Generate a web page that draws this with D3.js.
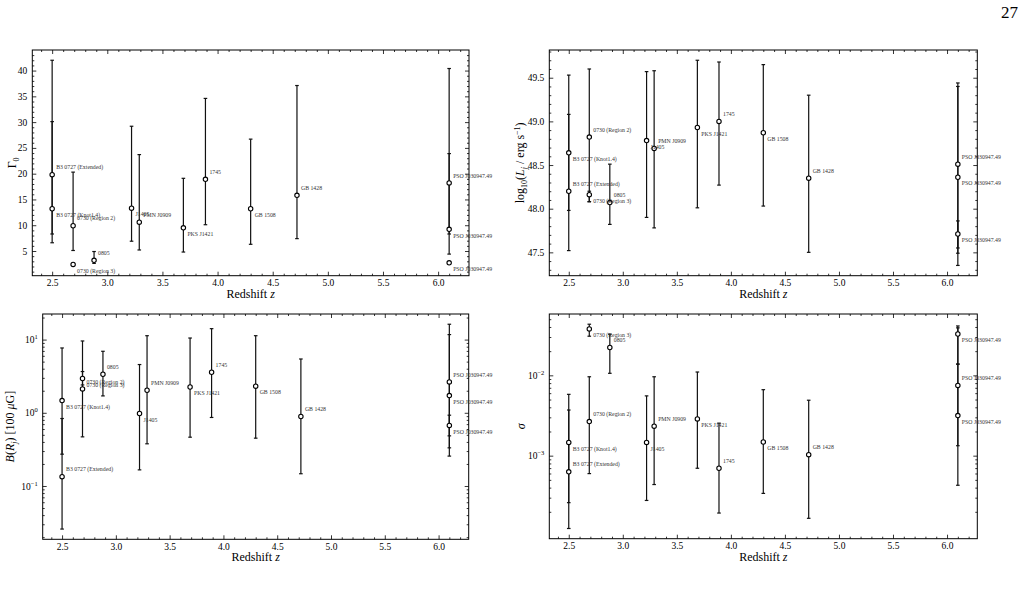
<!DOCTYPE html>
<html><head><meta charset="utf-8">
<script src="https://cdnjs.cloudflare.com/ajax/libs/d3/7.8.5/d3.min.js"></script>
<style>
html,body{margin:0;padding:0;background:#fff;}
svg{display:block;font-family:"Liberation Serif","DejaVu Serif",serif;}
</style></head>
<body>
<svg id="chart" width="1023" height="603"></svg>
<script>
// ---------------- data ----------------
const sources = ["B3 0727 (Extended)","B3 0727 (Knot1.4)","0730 (Region 2)","0730 (Region 3)","0805","J1405","PMN J0909","PKS J1421","1745","GB 1508","GB 1428","PSO J030947.49","PSO J030947.49","PSO J030947.49"];
const redshift = [2.5, 2.5, 2.69, 2.69, 2.88, 3.22, 3.29, 3.69, 3.89, 4.30, 4.72, 6.10, 6.10, 6.10];

const gammaVal = [19.8, 13.2, 9.9, 2.4, 3.2, 13.3, 10.6, 9.5, 18.9, 13.2, 15.8, 9.2, 18.2, 2.7];
const gammaLo  = [6.6, 8.3, 5.1, 2.2, 2.6, 6.9, 5.2, 4.8, 10.1, 6.3, 7.4, 8.3, 4.4, 2.5];
const gammaHi  = [42.0, 30.1, 20.3, 2.6, 4.9, 29.2, 23.7, 19.1, 34.6, 26.7, 37.1, 23.9, 40.4, 2.9];

const logLVal = [48.20, 48.64, 48.82, 48.16, 48.07, 48.78, 48.69, 48.93, 49.00, 48.87, 48.35, 48.36, 48.51, 47.71];
const logLLo  = [47.52, 47.98, 48.08, 48.08, 47.82, 47.90, 47.78, 48.01, 48.27, 48.03, 47.50, 47.49, 47.35, 47.55];
const logLHi  = [49.53, 49.08, 49.60, 48.20, 48.51, 49.57, 49.58, 49.70, 49.68, 49.65, 49.30, 49.40, 49.44, 47.86];

const bVal = [0.134, 1.47, 2.12, 2.94, 3.36, 0.977, 2.03, 2.25, 3.58, 2.31, 0.89, 1.72, 2.64, 0.671];
const bLo  = [0.0258, 0.272, 0.469, 2.40, 1.70, 0.166, 0.377, 0.464, 0.863, 0.45, 0.147, 0.332, 0.256, 0.484];
const bHi  = [0.835, 7.68, 9.57, 3.66, 6.92, 4.56, 11.3, 10.5, 14.1, 11.3, 5.43, 11.7, 16.2, 0.927];

const sigVal = [6.3e-4, 1.46e-3, 2.66e-3, 0.0378, 0.0222, 1.46e-3, 2.33e-3, 2.87e-3, 6.97e-4, 1.48e-3, 1.03e-3, 0.0327, 7.5e-3, 3.16e-3];
const sigLo  = [1.24e-4, 2.6e-4, 5.98e-4, 0.0307, 0.0106, 2.77e-4, 4.37e-4, 6.97e-4, 1.93e-4, 3.39e-4, 1.66e-4, 0.0138, 1.33e-3, 4.28e-4];
const sigHi  = [3.7e-3, 5.8e-3, 9.6e-3, 0.0433, 0.0325, 5.55e-3, 9.6e-3, 0.011, 2.54e-3, 6.63e-3, 4.9e-3, 0.0412, 0.039, 0.0138];

const xTicks = [2.5, 3.0, 3.5, 4.0, 4.5, 5.0, 5.5, 6.0];
const gammaTicks = [5, 10, 15, 20, 25, 30, 35, 40];
const logLTicks = [47.5, 48.0, 48.5, 49.0, 49.5];
const bTicks = [0.1, 1, 10];
const sigTicks = [1e-3, 1e-2];
const pageNumber = "27";

// ---------------- drawing ----------------
const svg = d3.select("#chart");
const FONT = '"Liberation Serif","DejaVu Serif",serif';

svg.append("text").attr("x", 1018).attr("y", 18).attr("text-anchor", "end")
  .attr("font-size", 17).attr("font-family", FONT).text(pageNumber);

function padDomain(lo, hi, log) {
  if (log) {
    const a = Math.log10(lo), b = Math.log10(hi), m = (b - a) * 0.05;
    return [Math.pow(10, a - m), Math.pow(10, b + m)];
  }
  const m = (hi - lo) * 0.05;
  return [lo - m, hi + m];
}

function supText(sel, d) {
  const e = Math.round(Math.log10(d));
  sel.text(null);
  sel.append("tspan").text("10");
  sel.append("tspan").attr("dy", -4).attr("font-size", "6.5px")
    .text(e < 0 ? "\u2212" + Math.abs(e) : String(e));
}

function drawPanel(p) {
  const g = svg.append("g");
  const w = p.right - p.left, h = p.bottom - p.top;
  const x = d3.scaleLinear().domain(padDomain(d3.min(redshift), d3.max(redshift), false)).range([p.left, p.right]);
  const yd = padDomain(d3.min(p.lo), d3.max(p.hi), p.log);
  const y = (p.log ? d3.scaleLog() : d3.scaleLinear()).domain(yd).range([p.bottom, p.top]);

  const xMinor = d3.range(2.4, 6.3, 0.1).map(v => +v.toFixed(2)).filter(v => v >= x.domain()[0] && v <= x.domain()[1] && Math.abs(v * 2 - Math.round(v * 2)) > 1e-6);
  let yMinor;
  if (p.log) {
    yMinor = [];
    for (let e = -6; e <= 3; e++) for (let k = 2; k <= 9; k++) {
      const v = k * Math.pow(10, e);
      if (v >= yd[0] && v <= yd[1]) yMinor.push(v);
    }
  } else {
    yMinor = d3.range(Math.ceil(yd[0] / p.minorStep) * p.minorStep, yd[1], p.minorStep)
      .map(v => +v.toFixed(4)).filter(v => !p.ticks.some(t => Math.abs(t - v) < 1e-6));
  }

  const axes = [
    {gen: d3.axisBottom(x), tr: `translate(0,${p.bottom})`, major: xTicks, minor: xMinor, label: true},
    {gen: d3.axisTop(x), tr: `translate(0,${p.top})`, major: xTicks, minor: xMinor, label: false},
    {gen: d3.axisLeft(y), tr: `translate(${p.left},0)`, major: p.ticks, minor: yMinor, label: true, yaxis: true},
    {gen: d3.axisRight(y), tr: `translate(${p.right},0)`, major: p.ticks, minor: yMinor, label: false}
  ];
  axes.forEach(a => {
    const mk = (vals, size, lab) => {
      const ax = a.gen.tickValues(vals).tickSizeInner(-size).tickSizeOuter(0).tickPadding(a.yaxis ? 5 : 4);
      if (!lab) ax.tickFormat(null);
      else if (a.yaxis) ax.tickFormat(p.log ? (d => "10") : d3.format(p.fmt));
      else ax.tickFormat(d3.format(".1f"));
      const gg = g.append("g").attr("transform", a.tr).attr("font-family", FONT).call(ax);
      gg.select(".domain").remove();
      if (!lab) gg.selectAll(".tick text").remove();
      gg.selectAll("line").attr("stroke", "#000").attr("stroke-width", 0.8);
      gg.selectAll("text").attr("font-family", FONT).attr("font-size", 9.5).attr("fill", "#000");
      if (lab && a.yaxis && p.log) gg.selectAll(".tick text").each(function(d) { supText(d3.select(this), d); });
      return gg;
    };
    mk(a.minor, 2, false);
    mk(a.major, 4, a.label);
  });

  g.append("rect").attr("x", p.left).attr("y", p.top).attr("width", w).attr("height", h)
    .attr("fill", "none").attr("stroke", "#000").attr("stroke-width", 1);

  const idx = d3.range(redshift.length);
  const eb = g.append("g").attr("stroke", "#111").attr("stroke-width", 1.2);
  idx.forEach(i => {
    const cx = x(redshift[i]);
    eb.append("line").attr("x1", cx).attr("x2", cx).attr("y1", y(p.lo[i])).attr("y2", y(p.hi[i]));
    [p.lo[i], p.hi[i]].forEach(v => {
      eb.append("line").attr("x1", cx - 1.8).attr("x2", cx + 1.8).attr("y1", y(v)).attr("y2", y(v));
    });
  });
  g.append("g").selectAll("circle").data(idx).join("circle")
    .attr("cx", i => x(redshift[i])).attr("cy", i => y(p.val[i])).attr("r", 2.2)
    .attr("fill", "#fff").attr("stroke", "#000").attr("stroke-width", 1.1);
  g.append("g").selectAll("text").data(idx).join("text")
    .attr("x", i => x(redshift[i]) + 4)
    .attr("y", i => y(p.val[i]) + (i % 2 === 0 ? -5.3 : 8.2))
    .attr("font-size", 5.8).attr("font-family", FONT).attr("fill", "#333")
    .text(i => sources[i]);

  const xl = g.append("text").attr("x", (p.left + p.right) / 2).attr("y", p.bottom + 22)
    .attr("text-anchor", "middle").attr("font-size", 12).attr("font-family", FONT);
  xl.append("tspan").text("Redshift ");
  xl.append("tspan").attr("font-style", "italic").text("z");

  const yl = g.append("text").attr("transform", `translate(${p.ylx},${(p.top + p.bottom) / 2}) rotate(-90)`)
    .attr("text-anchor", "middle").attr("font-size", 12).attr("font-family", FONT);
  p.ylabel(yl);
}

// subscript followed by a normal-size piece of text
function subThen(t, s, italic, next, nextItalic) {
  const a = t.append("tspan").attr("dy", 2.5).attr("font-size", "8px").text(s);
  if (italic) a.attr("font-style", "italic");
  const b = t.append("tspan").attr("dy", -2.5).text(next);
  if (nextItalic) b.attr("font-style", "italic");
}

drawPanel({left: 32.3, right: 469, top: 50, bottom: 275.7, val: gammaVal, lo: gammaLo, hi: gammaHi,
  log: false, ticks: gammaTicks, minorStep: 1, fmt: "d", ylx: 16,
  ylabel: t => {
    t.append("tspan").text("\u0393");
    t.append("tspan").attr("dy", 2.5).attr("font-size", "8px").text("0");
  }});

drawPanel({left: 549.3, right: 977.3, top: 50, bottom: 275.7, val: logLVal, lo: logLLo, hi: logLHi,
  log: false, ticks: logLTicks, minorStep: 0.1, fmt: ".1f", ylx: 524,
  ylabel: t => {
    t.append("tspan").text("log");
    subThen(t, "10", false, "(");
    t.append("tspan").attr("font-style", "italic").text("L");
    subThen(t, "j", true, " / erg s");
    t.append("tspan").attr("dy", -4).attr("font-size", "8px").text("\u22121");
    t.append("tspan").attr("dy", 4).text(")");
  }});

drawPanel({left: 42.7, right: 468.7, top: 314, bottom: 539.3, val: bVal, lo: bLo, hi: bHi,
  log: true, ticks: bTicks, ylx: 14,
  ylabel: t => {
    t.append("tspan").attr("font-style", "italic").text("B");
    t.append("tspan").text("(");
    t.append("tspan").attr("font-style", "italic").text("R");
    subThen(t, "j", true, ") [100 ");
    t.append("tspan").attr("font-style", "italic").text("\u03BC");
    t.append("tspan").text("G]");
  }});

drawPanel({left: 549.3, right: 977.3, top: 314, bottom: 538.7, val: sigVal, lo: sigLo, hi: sigHi,
  log: true, ticks: sigTicks, ylx: 525,
  ylabel: t => { t.append("tspan").attr("font-style", "italic").text("\u03C3"); }});
</script>
</body></html>
